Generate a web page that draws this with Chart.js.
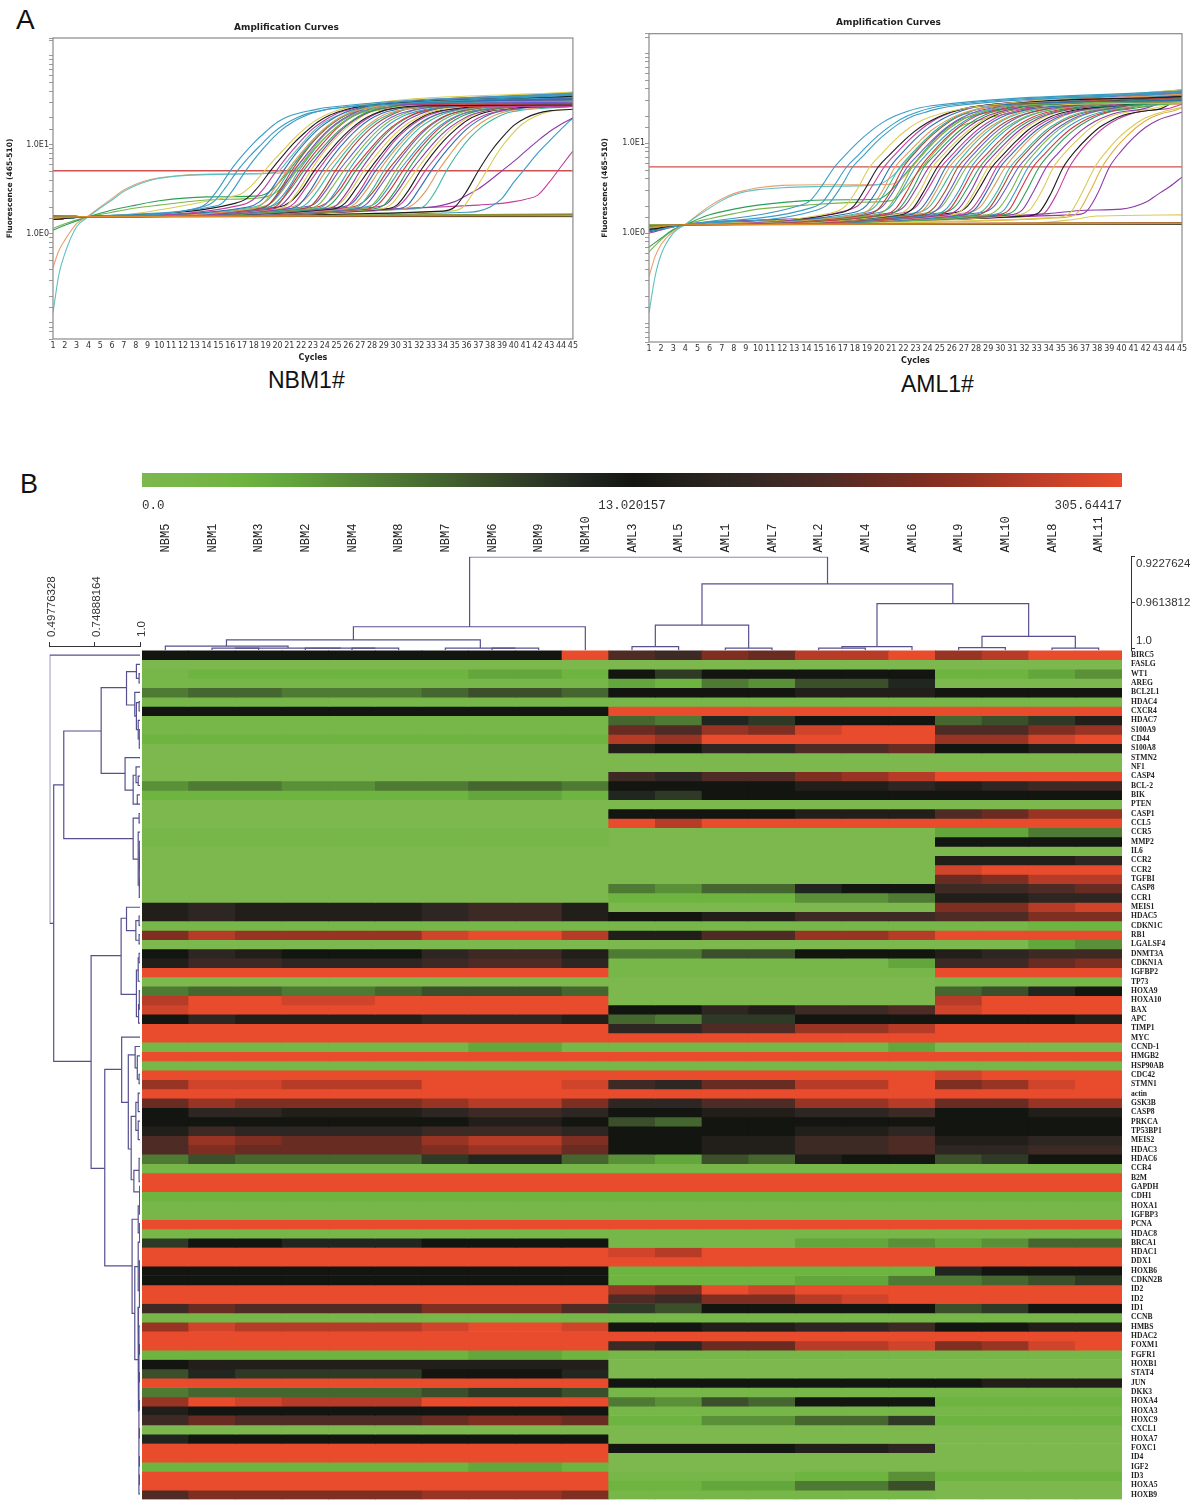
<!DOCTYPE html>
<html>
<head>
<meta charset="utf-8">
<script src="https://cdn.jsdelivr.net/npm/chart.js@4/dist/chart.umd.min.js"></script>
<style>
  html, body { margin: 0; background: #fff; }
  body { position: relative; width: 1200px; height: 1508px; overflow: hidden; }
  canvas { position: absolute; }
  .soft { filter: blur(0.45px); }
  .softer { filter: blur(0.3px); }
  .note { position: absolute; font-family: "Liberation Sans", sans-serif; color: #111; line-height: 1; }
</style>
</head>
<body>
<div class="note" style="left:16px;top:6px;font-size:28px">A</div>
<div class="note" style="left:20px;top:471px;font-size:27px">B</div>
<div class="note" style="left:268px;top:369px;font-size:23px">NBM1#</div>
<div class="note" style="left:901px;top:373px;font-size:23px">AML1#</div>

<canvas id="nbmChart" class="soft" style="left:0;top:22px"></canvas>
<canvas id="amlChart" class="soft" style="left:595px;top:17px"></canvas>
<canvas id="rampChart" class="softer" style="left:0;top:465px"></canvas>
<canvas id="heatChart" class="softer" style="left:0;top:510px"></canvas>
<canvas id="colTreeChart" class="softer" style="left:0;top:542px"></canvas>
<canvas id="rowTreeChart" class="softer" style="left:0;top:570px"></canvas>

<script>
const cycleTicks = [1, 45];
const curveColours = ["#d8343c", "#2e9e5b", "#8c3aa8", "#d9cc55", "#1c1c1c", "#c040a0", "#2f6fb0", "#e09a5a", "#3cb8a0", "#a84a30", "#6a5acd", "#7ab648", "#3a9cc4"];
const leadColour = "#3a9cc4";
const flatColours = ["#e08a30", "#8a8a30", "#1c1c1c", "#d8503c", "#d9cc55", "#e08a30", "#7ab648", "#a84a30"];
const nbmEarlyColours = ["#5fc0c0", "#e8a070", "#2e9e5b", "#7ab648"];
const nbmLateColours = ["#1c1c1c", "#d9cc55", "#8c3aa8", "#3a9cc4", "#c040a0"];
const amlEarlyColours = ["#5fc0c0", "#e8a070", "#2e9e5b", "#7ab648", "#8c3aa8", "#d9cc55"];
const amlLateColours = ["#d9cc55", "#e0b040", "#8c3aa8"];

// [first cycle, value at cycle 1, values on consecutive cycles..., value at cycle 45]
const nbmRises = [
  [13, 1.5, 1.9, 2.2, 3.2, 5.1, 7.5, 10.5, 14, 18, 21, 23, 24.5, 26, 38],
  [13.6, 1.55, 2, 2.3, 3.3, 5.1, 7.3, 10, 13.5, 17, 20, 22.5, 24, 25.5, 37],
  [14.3, 1.45, 2, 2.2, 3.2, 5.1, 7.6, 10.8, 14.5, 18, 21, 23.5, 25, 26, 36],
  [15.9, 1.6, 2.6, 2.8, 3.6, 5.1, 7.2, 10, 13.6, 17.5, 21, 24, 26, 28, 39],
  [16.4, 1.5, 2.2, 2.5, 3.4, 5.1, 7.4, 10.5, 14, 18, 21.5, 24, 26, 27.5, 35],
  [16.9, 1.55, 2.1, 2.4, 3.3, 5.1, 7.6, 10.8, 14.8, 18.5, 22, 24.5, 26.5, 28, 38],
  [17.5, 1.5, 2, 2.3, 3.2, 5.1, 7.8, 11.2, 15.2, 19, 22.5, 25, 27, 28, 33],
  [17.8, 1.6, 1.9, 2.2, 3.3, 5.1, 7.5, 10.8, 14.6, 18.5, 22, 24.5, 26, 27.5, 37],
  [18, 1.45, 2, 2.3, 3.2, 5.1, 7.7, 11, 15, 19, 22.5, 25, 27, 28.5, 31],
  [18.2, 1.5, 1.9, 2.1, 3.1, 5.1, 7.9, 11.5, 15.5, 19.5, 23, 26, 28, 29, 36],
  [18.4, 1.55, 1.9, 2.2, 3.2, 5.1, 7.6, 11, 15, 19, 22.5, 25.5, 27, 28, 30],
  [18.6, 1.6, 2, 2.3, 3.3, 5.1, 7.4, 10.5, 14.2, 18, 21.5, 24, 26.5, 28, 38],
  [18.8, 1.5, 1.9, 2.2, 3.1, 5.1, 7.8, 11.2, 15, 19, 22.5, 25, 27, 28.5, 34],
  [19, 1.45, 1.9, 2.1, 3.2, 5.1, 7.7, 11, 15.2, 19.5, 23, 25.5, 27, 28, 29],
  [19.2, 1.55, 2, 2.3, 3.3, 5.1, 7.5, 10.6, 14.4, 18.2, 22, 24.5, 26, 27.5, 35],
  [19.5, 1.6, 1.9, 2.2, 3.2, 5.1, 7.6, 11, 15, 19, 22.5, 25, 26.5, 28, 32],
  [19.8, 1.5, 1.9, 2.1, 3.1, 5.1, 7.9, 11.4, 15.4, 19.5, 23, 25, 26.5, 27.5, 37],
  [20.1, 1.45, 2, 2.3, 3.2, 5.1, 7.5, 10.8, 14.6, 18.6, 22, 24.5, 26, 27, 28],
  [20.4, 1.55, 1.9, 2.2, 3.3, 5.1, 7.7, 11, 15, 19, 22.5, 25, 26.5, 28, 33],
  [20.8, 1.6, 1.9, 2.1, 3.1, 5.1, 7.8, 11.2, 15.2, 19.2, 22.5, 24.5, 26, 27, 36],
  [21.1, 1.5, 2, 2.3, 3.2, 5.1, 7.4, 10.6, 14.4, 18.4, 22, 24, 25.5, 27, 30],
  [21.5, 1.45, 1.9, 2.2, 3.2, 5.1, 7.6, 11, 15, 19, 22, 24.5, 26, 27, 38],
  [21.9, 1.55, 1.9, 2.1, 3.1, 5.1, 7.9, 11.4, 15.4, 19.2, 22.5, 25, 26, 27, 29],
  [22.2, 1.6, 2, 2.2, 3.2, 5.1, 7.5, 10.8, 14.8, 18.8, 22, 24, 25.5, 26.5, 34],
  [22.6, 1.5, 1.9, 2.2, 3.3, 5.1, 7.6, 11, 15, 19, 22, 24.5, 26, 27, 31],
  [23, 1.45, 1.9, 2.1, 3.1, 5.1, 7.8, 11.2, 15.2, 19, 22, 24, 25.5, 26.5, 37],
  [23.3, 1.55, 2, 2.3, 3.2, 5.1, 7.4, 10.6, 14.4, 18.2, 21.5, 24, 25.5, 26.5, 28],
  [23.6, 1.6, 1.9, 2.2, 3.2, 5.1, 7.6, 11, 15, 18.8, 22, 24, 25.5, 26.5, 33],
  [24, 1.5, 1.9, 2.1, 3.1, 5.1, 7.8, 11.2, 15, 19, 22, 24.5, 26, 27, 36],
  [24.3, 1.45, 2, 2.2, 3.2, 5.1, 7.5, 10.8, 14.6, 18.4, 21.5, 24, 25.5, 26.5, 30],
  [24.7, 1.55, 1.9, 2.2, 3.3, 5.1, 7.6, 11, 14.8, 18.6, 22, 24, 25, 26, 35],
  [25, 1.6, 1.9, 2.1, 3.1, 5.1, 7.8, 11.4, 15.2, 19, 22, 24, 25.5, 26.5, 27],
  [25.3, 1.5, 2, 2.2, 3.2, 5.1, 7.5, 10.8, 14.6, 18.4, 21.5, 23.5, 25, 26, 32],
  [25.6, 1.45, 1.9, 2.2, 3.2, 5.1, 7.7, 11, 15, 19, 22, 24, 25, 26, 38],
  [26, 1.55, 1.9, 2.1, 3.1, 5.1, 7.9, 11.4, 15.4, 19, 22, 24, 25, 26, 29],
  [26.3, 1.6, 2, 2.3, 3.2, 5.1, 7.4, 10.6, 14.4, 18.2, 21.5, 23.5, 25, 26, 34],
  [26.6, 1.5, 1.9, 2.2, 3.3, 5.1, 7.6, 11, 15, 18.8, 22, 24, 25.5, 26.5, 31],
  [27, 1.45, 1.9, 2.1, 3.1, 5.1, 7.8, 11.2, 15.2, 19, 22, 24, 25.5, 26.5, 36],
  [27.3, 1.55, 2, 2.2, 3.2, 5.1, 7.5, 10.8, 14.6, 18.4, 21.5, 23.5, 25, 26, 28],
  [27.6, 1.6, 1.9, 2.2, 3.2, 5.1, 7.7, 11, 15, 18.8, 22, 24, 25, 26, 33],
  [28, 1.5, 1.9, 2.1, 3.1, 5.1, 7.9, 11.4, 15.2, 19, 22, 24, 25, 26, 37],
  [28.3, 1.45, 2, 2.2, 3.2, 5.1, 7.5, 10.8, 14.6, 18.2, 21.5, 23.5, 25, 26, 30],
  [28.7, 1.55, 1.9, 2.2, 3.3, 5.1, 7.6, 11, 15, 18.6, 22, 24, 25, 26, 35],
  [29.1, 1.6, 1.9, 2.1, 3.1, 5.1, 7.8, 11.2, 15, 19, 22, 24, 25, 26, 27],
  [29.5, 1.5, 1.9, 2.2, 3.2, 5.1, 7.5, 10.8, 14.6, 18.4, 21.5, 23.5, 25, 26, 32],
  [30, 1.45, 1.9, 2.1, 3.2, 5.1, 7.7, 11, 15, 18.8, 22, 24, 25, 26, 36],
  [30.6, 1.55, 1.9, 2.2, 3.1, 5.1, 7.8, 11.4, 15.2, 19, 22, 24, 25, 25.5, 29],
  [31.3, 1.6, 1.9, 2, 2.9, 5.1, 8.2, 12, 16, 19.5, 22.5, 24, 25, 25.5, 27],
  [34, 1.5, 1.8, 2, 3, 5.1, 8.2, 12, 16.5, 20, 22.5, 24, 25],
  [34.7, 1.55, 1.8, 2, 3.1, 5.1, 8.4, 12.5, 17, 20.5, 23, 24.5, 25],
  [33, 1.5, 2, 2.1, 2.3, 2.7, 3.2, 4, 5.1, 6.5, 8.5, 11, 14, 17, 20],
  [36, 1.6, 1.75, 1.8, 2, 2.5, 3.8, 5.5, 8, 11, 15, 20],
  [37, 1.55, 2.1, 2.15, 2.2, 2.3, 2.45, 2.7, 3.8, 5.7, 8.5]
];
// points that carry the curves starting low or holding a shoulder before they rise
const nbmEarly = [
  [[1, 0.13], [1.5, 0.35], [2, 0.6], [3, 1.2], [4, 1.55], [5, 1.95], [6, 2.4], [7, 3], [8, 3.5], [9, 3.9], [10, 4.2], [12, 4.5], [15, 4.65], [18, 4.7], [20, 5], [21, 7], [22, 10], [23, 14], [24, 18], [25, 21], [27, 25], [45, 30]],
  [[1, 0.42], [1.5, 0.65], [2, 0.85], [3, 1.3], [4, 1.6], [5, 2], [6, 2.5], [7, 3.1], [8, 3.6], [9, 4], [10, 4.25], [12, 4.55], [15, 4.7], [18, 4.75], [21, 4.9], [22, 6.5], [23, 9.5], [24, 13.5], [25, 17.5], [26, 21], [28, 25], [45, 28]],
  [[1, 1.1], [2, 1.25], [4, 1.55], [6, 1.85], [8, 2.1], [10, 2.35], [14, 2.6], [18, 2.65], [19, 2.8], [20, 3.6], [21, 5.2], [22, 7.6], [23, 11], [24, 15], [25, 19], [27, 24], [45, 32]],
  [[1, 1.15], [2, 1.3], [4, 1.55], [6, 1.75], [8, 1.95], [10, 2.1], [14, 2.4], [18, 2.5], [19, 2.6], [20, 3], [21, 4.2], [22, 6], [23, 9], [24, 13], [25, 17], [27, 23], [45, 30]]
];
// [value at cycle 1, value at cycle 45] for the wells that never rise
const nbmFlat = [[1.5, 1.6], [1.55, 1.65], [1.45, 1.58], [1.6, 1.62], [1.5, 1.55], [1.55, 1.6], [1.6, 1.68], [1.48, 1.63]];

const amlRises = [
  [13.3, 1.05, 2, 2.3, 3.4, 5.4, 7.6, 10.4, 13.6, 17, 20, 22.5, 24.5, 26, 38],
  [14.3, 1.1, 1.9, 2.2, 3.4, 5.4, 7.4, 10.2, 13.4, 16.8, 20, 22.5, 24.5, 26, 37],
  [14.8, 1.15, 1.8, 2.1, 3.2, 5.4, 7.5, 10.4, 13.6, 17, 20, 22, 24, 25.5, 36],
  [16.2, 1.1, 1.7, 2, 3.1, 5.4, 7.6, 10.5, 13.8, 17, 19.5, 21.5, 23, 24.5, 39],
  [16.9, 1.05, 1.7, 2, 3.2, 5.4, 7.5, 10.2, 13.4, 16.6, 19.5, 22, 24, 25.5, 33],
  [17.4, 1.2, 1.8, 2.1, 3.3, 5.4, 7.7, 10.6, 14, 17.5, 20.5, 23, 24.5, 26, 38],
  [17.9, 1.1, 1.7, 2, 3.1, 5.4, 7.8, 10.8, 14.2, 17.5, 20.5, 23, 25, 26, 30],
  [18.3, 1.05, 1.6, 1.9, 3, 5.4, 7.6, 10.4, 13.8, 17, 20, 22.5, 24, 25.5, 35],
  [18.7, 1.15, 1.7, 2, 3.2, 5.4, 7.7, 10.6, 14, 17.5, 20.5, 23, 25, 26, 39],
  [19, 1.1, 1.6, 1.9, 3, 5.4, 7.9, 11, 14.4, 18, 21, 23.5, 25, 26, 32],
  [19.3, 1.2, 1.7, 2, 3.1, 5.4, 7.6, 10.5, 14, 17.5, 20.5, 23, 24.5, 26, 37],
  [19.7, 1.05, 1.6, 1.9, 3, 5.4, 7.8, 10.8, 14.2, 17.6, 20.5, 23, 24.5, 26, 29],
  [20, 1.1, 1.7, 2, 3.2, 5.4, 7.7, 10.6, 14, 17.4, 20.5, 23, 24.5, 26, 34],
  [20.4, 1.15, 1.6, 1.9, 3.1, 5.4, 7.9, 11, 14.5, 18, 21, 23, 24.5, 26, 38],
  [20.7, 1.1, 1.6, 1.9, 3, 5.4, 7.6, 10.5, 14, 17.4, 20.5, 23, 24.5, 25.5, 31],
  [21.1, 1.05, 1.7, 2, 3.2, 5.4, 7.8, 10.8, 14.2, 17.6, 20.5, 22.5, 24, 25.5, 36],
  [21.4, 1.2, 1.6, 1.9, 3, 5.4, 7.7, 10.6, 14, 17.4, 20.5, 22.5, 24, 25.5, 28],
  [21.8, 1.1, 1.6, 1.9, 3.1, 5.4, 7.9, 11, 14.5, 18, 21, 23, 24.5, 25.5, 33],
  [22.1, 1.15, 1.7, 2, 3.2, 5.4, 7.6, 10.5, 14, 17.4, 20.5, 22.5, 24, 25.5, 37],
  [22.5, 1.05, 1.6, 1.9, 3, 5.4, 7.8, 10.8, 14.2, 17.6, 20.5, 22.5, 24, 25, 30],
  [22.8, 1.1, 1.6, 1.9, 3.1, 5.4, 7.7, 10.6, 14, 17.2, 20, 22.5, 24, 25, 35],
  [23.2, 1.2, 1.7, 2, 3.2, 5.4, 7.9, 11, 14.4, 17.8, 20.5, 22.5, 24, 25, 39],
  [23.5, 1.1, 1.6, 1.9, 3, 5.4, 7.6, 10.5, 14, 17.4, 20, 22, 23.5, 25, 29],
  [23.9, 1.05, 1.6, 1.9, 3.1, 5.4, 7.8, 10.8, 14.2, 17.6, 20.5, 22.5, 24, 25, 34],
  [24.2, 1.15, 1.7, 2, 3.2, 5.4, 7.7, 10.6, 14, 17.2, 20, 22, 23.5, 24.5, 38],
  [24.6, 1.1, 1.6, 1.9, 3, 5.4, 7.9, 11, 14.4, 17.8, 20.5, 22.5, 24, 25, 31],
  [24.9, 1.2, 1.6, 1.9, 3.1, 5.4, 7.6, 10.5, 14, 17.2, 20, 22, 23.5, 24.5, 36],
  [25.3, 1.05, 1.7, 2, 3.2, 5.4, 7.8, 10.8, 14.2, 17.4, 20, 22, 23.5, 24.5, 28],
  [25.6, 1.1, 1.6, 1.9, 3, 5.4, 7.7, 10.6, 14, 17.2, 20, 22, 23.5, 24.5, 33],
  [26, 1.15, 1.6, 1.9, 3.1, 5.4, 7.9, 11, 14.4, 17.6, 20.5, 22.5, 24, 25, 37],
  [26.3, 1.1, 1.7, 2, 3.2, 5.4, 7.6, 10.5, 14, 17.2, 20, 22, 23.5, 24.5, 30],
  [26.7, 1.05, 1.6, 1.9, 3, 5.4, 7.8, 10.8, 14.2, 17.4, 20, 22, 23.5, 24.5, 35],
  [27, 1.2, 1.6, 1.9, 3.1, 5.4, 7.7, 10.6, 14, 17.2, 20, 22, 23.5, 24.5, 29],
  [27.4, 1.1, 1.7, 2, 3.2, 5.4, 7.9, 11, 14.4, 17.6, 20.5, 22.5, 23.5, 24.5, 34],
  [27.8, 1.15, 1.6, 1.9, 3, 5.4, 7.6, 10.5, 14, 17.2, 20, 22, 23.5, 24.5, 38],
  [28.1, 1.05, 1.6, 1.9, 3.1, 5.4, 7.8, 10.8, 14.2, 17.4, 20, 22, 23.5, 24.5, 31],
  [28.5, 1.1, 1.7, 2, 3.2, 5.4, 7.7, 10.6, 14, 17.2, 20, 22, 23.5, 24.5, 36],
  [28.9, 1.2, 1.6, 1.9, 3, 5.4, 7.9, 11, 14.4, 17.6, 20.5, 22.5, 23.5, 24.5, 28],
  [29.3, 1.1, 1.6, 1.8, 3, 5.4, 7.8, 10.8, 14.2, 17.4, 20, 22, 23.5, 24.5, 33],
  [29.7, 1.05, 1.6, 1.8, 3.1, 5.4, 7.7, 10.6, 14, 17.2, 20, 22, 23.5, 24.5, 37],
  [30.2, 1.15, 1.6, 1.8, 3, 5.4, 7.9, 11, 14.4, 17.6, 20.5, 22.5, 23.5, 24.5, 30],
  [30.8, 1.1, 1.6, 1.8, 3, 5.4, 7.8, 10.8, 14.2, 17.4, 20, 22, 23, 24, 35],
  [31.4, 1.2, 1.6, 1.8, 2.9, 5.4, 8, 11, 14.6, 18, 20.5, 22, 23, 24, 29],
  [32.2, 1.1, 1.55, 1.7, 2.8, 5.4, 8.2, 11.4, 15, 18, 20.5, 22, 23, 24, 33],
  [32.7, 1.05, 1.55, 1.7, 2.8, 5.4, 8.4, 11.8, 15.4, 18.5, 21, 22.5, 23.5, 24, 27],
  [34.8, 1.1, 1.5, 1.7, 2.9, 5.4, 8.2, 11.6, 15, 18.5, 21, 23, 25],
  [35.4, 1.15, 1.5, 1.7, 2.9, 5.4, 8.4, 11.8, 15.6, 19, 21.5, 23, 25],
  [36, 1.05, 1.6, 1.7, 2.7, 5.4, 8.2, 11.5, 15, 18, 20, 22]
];
const amlEarly = [
  [[1, 0.13], [1.5, 0.33], [2, 0.58], [3, 1], [4, 1.25], [5, 1.55], [6, 1.9], [7, 2.3], [8, 2.65], [9, 2.9], [10, 3.05], [12, 3.2], [15, 3.3], [18, 3.35], [20, 3.5], [21, 4.2], [22, 5.8], [23, 8.2], [24, 11.5], [25, 15], [27, 21], [45, 29]],
  [[1, 0.33], [1.5, 0.55], [2, 0.75], [3, 1.05], [4, 1.25], [5, 1.6], [6, 2], [7, 2.4], [8, 2.75], [9, 3], [10, 3.2], [12, 3.4], [15, 3.45], [18, 3.45], [21, 3.5], [22, 4.2], [23, 6], [24, 8.6], [25, 12], [26, 15.5], [28, 21], [45, 27]],
  [[1, 0.7], [2, 0.88], [3, 1.1], [4, 1.25], [6, 1.6], [8, 1.85], [10, 2.05], [14, 2.3], [18, 2.35], [20, 2.4], [21, 3], [22, 4.3], [23, 6.2], [24, 9], [25, 12.5], [27, 19], [45, 32]],
  [[1, 0.62], [2, 0.85], [3, 1.08], [4, 1.25], [6, 1.45], [8, 1.65], [10, 1.85], [14, 2.05], [18, 2.2], [21, 2.3], [22, 3], [23, 4.4], [24, 6.4], [25, 9.2], [27, 16], [45, 30]],
  [[1, 1], [4, 1.25], [10, 1.4], [20, 1.5], [30, 1.55], [34, 1.65], [37, 1.8], [40, 1.85], [42, 2.2], [43, 2.7], [44, 3.3], [45, 4.2]],
  [[1, 1.1], [4, 1.25], [20, 1.28], [33, 1.3], [36, 1.42], [38, 1.55], [45, 1.6]]
];
const amlFlat = [[1.15, 1.28], [1.2, 1.3], [1.1, 1.26], [1.22, 1.31], [1.15, 1.27], [1.18, 1.29], [1.25, 1.3]];

const nbmPivot = 1.56;
const amlPivot = 1.24;
const nbmThreshold = 5.1;
const amlThreshold = 5.45;

const sampleLabels = ["NBM5", "NBM1", "NBM3", "NBM2", "NBM4", "NBM8", "NBM7", "NBM6", "NBM9", "NBM10", "AML3", "AML5", "AML1", "AML7", "AML2", "AML4", "AML6", "AML9", "AML10", "AML8", "AML11"];
const rowLabels = ["BIRC5", "FASLG", "WT1", "AREG", "BCL2L1", "HDAC4", "CXCR4", "HDAC7", "S100A9", "CD44", "S100A8", "STMN2", "NF1", "CASP4", "BCL-2", "BIK", "PTEN", "CASP1", "CCL5", "CCR5", "MMP2", "IL6", "CCR2", "CCR2", "TGFBI", "CASP8", "CCR1", "MEIS1", "HDAC5", "CDKN1C", "RB1", "LGALSF4", "DNMT3A", "CDKN1A", "IGFBP2", "TP73", "HOXA9", "HOXA10", "BAX", "APC", "TIMP1", "MYC", "CCND-1", "HMGB2", "HSP90AB", "CDC42", "STMN1", "actin", "GSK3B", "CASP8", "PRKCA", "TP53BP1", "MEIS2", "HDAC3", "HDAC6", "CCR4", "B2M", "GAPDH", "CDH1", "HOXA1", "IGFBP3", "PCNA", "HDAC8", "BRCA1", "HDAC1", "DDX1", "HOXB6", "CDKN2B", "ID2", "ID2", "ID1", "CCNB", "HMBS", "HDAC2", "FOXM1", "FGFR1", "HOXB1", "STAT4", "JUN", "DKK3", "HOXA4", "HOXA3", "HOXC9", "CXCL1", "HOXA7", "FOXC1", "ID4", "IGF2", "ID3", "HOXA5", "HOXB9"];

// one character per cell, 0 = green, a = black, k = red (base 21 step on the colour bar)
const heatRows = [
  "aaaaaaaaak edgfiikhikk", "0000000000 00000000000", "1222222332 a8aaaaa2234", "1111111111 32547790000",
  "5665556776 aaaabbbaaaa", "1111111111 11111111111", "aaaaaaaaaa kkkkkkkkkkk", "1111111111 6598aaa678b",
  "1111111111 fehgjkkeegh", "2222222222 ihkkkkkhhjk", "0000000000 bacceefaabb", "0000000000 00000000000",
  "0000000000 00000000000", "0000000000 dceeghikkkk", "4554455665 aaaabbcbcdd", "2222222332 98aaaaaaaaa",
  "0000000000 00000000000", "0000000000 aaaabbbefhh", "0000000000 kikkkkkkkkk", "1111111111 00000003355",
  "1111111111 0000000aaaa", "0000000000 00000000000", "0000000000 0000000bbbc", "0000000000 0000000jkkk",
  "0000000000 0000000fgii", "0000000000 54669aaddef", "0000000000 2222445bbcc", "bcbbbbcddb 0000000ggij",
  "bcbbbbcddb aabbdddeegg", "1111111111 11111111122", "gihhhhjkki bbeehhikkkk", "0000000000 00000000034",
  "acbaaacddb 5577aaabcdd", "bddcccdeec 1111113ddfg", "kkkkkkkkkk 1111111kkkk", "0000000000 00000001111",
  "5665567776 0000000679a", "ikkjjkkkkk 0000000ikkk", "jkkkkkkkkk aacbddejkkk", "acbbbbcccb 6588aaaaaab",
  "kkkkkkkkkk cceehhikkkk", "kkkkkkkkkk kkkkkkkkkkk", "1111111331 11111130000", "kkkkkkkkkk kkkkkkkkkkk",
  "1111111111 11111111111", "kkkkkkkkkk kkkkkkkjkkk", "hjjiiikkkj dcffiikghjk", "kkkkkkkkkk kkkkkkkkkkk",
  "fhgggghiig cceehhiffhh", "accbbbcddc aabbccdaabb", "aaaaaaabba 76aaaaaaaaa", "bdccccdddc aaaabbcaaaa",
  "ehgfffhiig aabbddebbcc", "egffffghhf aabbddeccdd", "5766668996 4376baa78aa", "1111111111 11111111111",
  "kkkkkkkkkk kkkkkkkkkkk", "kkkkkkkkkk kkkkkkkkkkk", "2222222222 22222222222", "1111111111 11111111111",
  "1111111111 11111111111", "kkkkkkkkkk kkkkkkkkkkk", "1111111111 11111111111", "8aa999aaaa 11113343466",
  "kkkkkkkkkk jikkkkkkkkk", "kkkkkkkkkk kkkkkkkkkkk", "aaaaaaaaaa 22222229aaa", "aaaaaaaaaa 22223355678",
  "kkkkkkkkkk hgkjkkkkkkk", "kkkkkkkkkk edggijkkkkk", "dfeeeeggge 87aaaaa78aa", "1111111111 11111111111",
  "hjiiiijkkj aabbccdaabb", "kkkkkkkkkk kkkkkkkkkkk", "kkkkkkkkkk dcffiijghjk", "2222222332 11111111111",
  "abbbbbbbbb 00000000000", "798888aaa9 00000000000", "kkkkkkkkkk aaaaaaaabbb", "5666667887 11111111111",
  "hkjiiikkkk 5476aaa2222", "baaaaaaaaa 11111111111", "dfeeeefggf 22446682222", "0000000000 00000000000",
  "9aaaaaaaaa 00000000000", "kkkkkkkkkk aaaabbc0000", "kkkkkkkkkk 00000000000", "2222222332 00000000000",
  "kkkkkkkkkk 11112242222", "kkkkkkkkkk 22335570000", "eggggghhhg 11111110000"
];
const rampColours = ["#7cb84d", "#77b648", "#6eb440", "#62a63c", "#5a9038", "#4f7a34", "#45662f", "#3b4f2a", "#2f3a26", "#222620", "#131510", "#221f1a", "#2e2622", "#3d2a25", "#4f2b25", "#682c22", "#7f2e22", "#983423", "#b63c28", "#cf442a", "#e84c2c"];
const rampTicks = [0, 0.5, 1];
const rampLabels = ["0.0", "13.020157", "305.64417"];

// [left col, left height, right col, right height, join height]
const colTree = [
  [1.5, 1.0017, 2.5, 1.0017, 1], [4.5, 1.0017, 5.5, 1.0017, 1], [3.5, 1.0017, 5, 1, 1], [2, 1, 4.25, 1, 0.9999],
  [0.5, 1.0017, 3.13, 0.9999, 0.9983], [7.5, 1.0017, 8.5, 1.0017, 1], [6.5, 1.0017, 8, 1, 1],
  [1.81, 0.9983, 7.25, 1, 0.993], [4.53, 0.993, 9.5, 1.0017, 0.9819], [10.5, 1.0017, 11.5, 1.0017, 0.9987],
  [12.5, 1.0017, 13.5, 1.0017, 1], [11, 0.9987, 13, 1, 0.9805], [14.5, 1.0017, 15.5, 1.0017, 1],
  [15, 1, 16.5, 1.0017, 0.9987], [17.5, 1.0017, 18.5, 1.0017, 0.9995], [19.5, 1.0017, 20.5, 1.0017, 1],
  [18, 0.9995, 20, 1, 0.9901], [15.75, 0.9987, 19, 0.9901, 0.9624], [12, 0.9805, 17.375, 0.9624, 0.9457],
  [7.02, 0.9819, 14.69, 0.9457, 0.9228]
];
const colTreeTicks = [0.9227624, 0.9613812, 1.0];

// [join similarity, upper row, lower row, upper child similarity, lower child similarity]
const rowTree = [
  [0.4978, 0.5, 29.3, 1, 0.52], [0.52, 14.44, 44.1, 0.576, 0.728], [0.576, 8.65, 20.2, 0.784, 0.962],
  [0.784, 4, 13.2, 0.925, 0.917], [0.925, 2.29, 5.86, 0.98, 0.971], [0.98, 1.5, 3, 1, 0.995], [0.995, 2.5, 3.5, 1, 1],
  [0.971, 4.5, 7.05, 1, 0.98], [0.98, 5.6, 8.5, 0.995, 0.99], [0.995, 5.5, 6.5, 1, 1], [0.99, 7.5, 9.5, 1, 0.996],
  [0.996, 8.5, 10.5, 1, 1], [0.917, 11.5, 15, 1, 0.962], [0.962, 13.4, 16.5, 0.978, 0.985], [0.978, 12.5, 14.2, 1, 0.99],
  [0.99, 13.5, 14.5, 1, 1], [0.985, 15.5, 16.5, 1, 1], [0.962, 18, 22.4, 0.995, 0.99], [0.995, 17.5, 18.5, 1, 1],
  [0.99, 19.5, 25.2, 1, 0.996], [0.996, 20.5, 26.5, 1, 1], [0.998, 21.5, 23.5, 1, 1], [0.998, 24.5, 25.5, 1, 1],
  [0.728, 32.76, 55.57, 0.895, 0.804], [0.895, 28.74, 36.9, 0.925, 0.98], [0.925, 27.56, 30.07, 1, 0.977],
  [0.977, 29, 31.1, 0.995, 0.995], [0.995, 28.5, 29.5, 1, 1], [0.995, 30.5, 31.5, 1, 1], [0.98, 34.3, 39.3, 0.99, 0.992],
  [0.99, 33, 35.5, 0.995, 1], [0.995, 32.5, 33.5, 1, 1], [0.992, 38, 40, 0.996, 1], [0.996, 36.5, 38.5, 1, 1],
  [0.804, 44.95, 66.05, 0.898, 0.956], [0.898, 41.5, 48.5, 1, 0.935], [0.935, 43.4, 53.5, 0.973, 0.951],
  [0.973, 42.5, 44.8, 1, 0.985], [0.985, 43.5, 46, 1, 0.995], [0.995, 45.5, 46.5, 1, 1], [0.951, 50, 56.8, 0.977, 0.966],
  [0.977, 48.5, 51.5, 0.99, 0.99], [0.99, 47.5, 49.5, 1, 1], [0.99, 50.5, 52.5, 1, 1], [0.966, 55.8, 58.1, 0.995, 0.998],
  [0.995, 54.5, 57, 1, 1], [0.998, 57.5, 58.7, 1, 1], [0.956, 61.04, 71.13, 0.99, 0.971], [0.99, 59.6, 62.5, 0.998, 0.998],
  [0.998, 58.5, 60.5, 1, 1], [0.998, 61.5, 63.5, 1, 1], [0.971, 66.13, 76.1, 0.99, 0.989], [0.99, 63.5, 68.7, 1, 0.996],
  [0.996, 65.5, 70.5, 1, 0.998], [0.989, 70.5, 81.7, 1, 0.994], [0.994, 72.5, 90.5, 1, 1], [0.997, 74.5, 75.5, 1, 1],
  [0.997, 77.5, 78.5, 1, 1], [0.997, 80.5, 81.5, 1, 1], [0.997, 83.5, 84.5, 1, 1], [0.997, 86.5, 87.5, 1, 1], [0.997, 88.5, 89.5, 1, 1]
];
const rowTreeTicks = [0.49776328, 0.74888164, 1.0];

Chart.defaults.animation = false;
Chart.defaults.events = [];
Chart.defaults.plugins.legend.display = false;
Chart.defaults.plugins.tooltip.enabled = false;

const treeColour = "#56508e";
const frame = {
  id: "frame",
  afterDraw(chart) {
    const { ctx, chartArea: a } = chart;
    ctx.save();
    ctx.strokeStyle = "#8a8a8a";
    ctx.lineWidth = 1.2;
    ctx.strokeRect(a.left, a.top, a.right - a.left, a.bottom - a.top);
    ctx.restore();
  }
};

function setSize(id, width, height) {
  const el = document.getElementById(id);
  el.width = width;
  el.height = height;
  el.style.width = width + "px";
  el.style.height = height + "px";
  return el;
}

function riseToPoints(curve, pivot) {
  const points = [{ x: 1, y: curve[1] }, { x: 4, y: pivot }];
  const steps = curve.slice(2, -1);
  steps.forEach((y, i) => points.push({ x: curve[0] + i, y }));
  points.push({ x: 45, y: curve[curve.length - 1] });
  return points;
}

function lineSet(points, colour) {
  return { data: points, borderColor: colour, borderWidth: 1.1, pointRadius: 0, showLine: true, cubicInterpolationMode: "monotone" };
}

function curveChart(id, size, opts) {
  const datasets = [];
  opts.flat.forEach((f, i) => datasets.push(lineSet([{ x: 1, y: f[0] }, { x: 4, y: opts.pivot }, { x: 45, y: f[1] }], flatColours[i])));
  const lateFrom = opts.rises.length - opts.lateColours.length;
  opts.rises.forEach((c, i) => {
    let colour = curveColours[i % curveColours.length];
    if (i < 3) colour = leadColour;
    if (i >= lateFrom) colour = opts.lateColours[i - lateFrom];
    datasets.push(lineSet(riseToPoints(c, opts.pivot), colour));
  });
  opts.early.forEach((e, i) => datasets.push(lineSet(e.map(p => ({ x: p[0], y: p[1] })), opts.earlyColours[i])));
  datasets.push({
    data: cycleTicks.map(x => ({ x, y: opts.threshold })),
    borderColor: "#cf5050",
    borderWidth: 1.4,
    pointRadius: 0,
    showLine: true
  });

  return new Chart(setSize(id, size[0], size[1]), {
    type: "scatter",
    data: { datasets },
    plugins: [frame],
    options: {
      responsive: false,
      layout: { padding: { right: opts.rightPad } },
      plugins: {
        title: {
          display: true,
          text: "Amplification Curves",
          color: "#222",
          font: { family: "DejaVu Sans", size: 9, weight: "bold" },
          padding: { top: 0, bottom: opts.titleGap }
        }
      },
      scales: {
        x: {
          type: "linear",
          min: 1,
          max: 45,
          afterFit: s => { s.height = 24; },
          grid: { display: false, drawTicks: false },
          border: { display: false },
          ticks: { stepSize: 1, autoSkip: false, maxRotation: 0, padding: 2, color: "#333", font: { family: "DejaVu Sans", size: 8 } },
          title: { display: true, text: "Cycles", color: "#222", padding: 0, font: { family: "DejaVu Sans", size: 8, weight: "bold" } }
        },
        y: {
          type: "logarithmic",
          min: opts.yMin,
          max: opts.yMax,
          afterFit: s => { s.width = opts.axisWidth; },
          grid: { drawOnChartArea: false, tickLength: 4, color: "#999" },
          border: { display: false },
          ticks: {
            autoSkip: false,
            padding: 0,
            color: "#333",
            font: { family: "DejaVu Sans", size: 8 },
            callback: v => (v === 10 ? "1.0E1" : v === 1 ? "1.0E0" : "")
          },
          title: { display: true, text: "Fluorescence (465-510)", color: "#222", padding: { top: 6, bottom: 0 }, font: { family: "DejaVu Sans", size: 7.5, weight: "bold" } }
        }
      }
    }
  });
}

curveChart("nbmChart", [580, 341], { rises: nbmRises, early: nbmEarly, flat: nbmFlat, pivot: nbmPivot, threshold: nbmThreshold, yMin: 0.066, yMax: 158, axisWidth: 53, rightPad: 7, titleGap: 5.2, earlyColours: nbmEarlyColours, lateColours: nbmLateColours });
curveChart("amlChart", [595, 349], { rises: amlRises, early: amlEarly, flat: amlFlat, pivot: amlPivot, threshold: amlThreshold, yMin: 0.062, yMax: 164, axisWidth: 54, rightPad: 8, titleGap: 5.9, earlyColours: amlEarlyColours, lateColours: amlLateColours });

// colour bar
new Chart(setSize("rampChart", 1200, 50), {
  type: "bar",
  data: {
    labels: ["ramp"],
    datasets: [{
      data: [[0, 1]],
      barPercentage: 1,
      categoryPercentage: 1,
      backgroundColor: ctx => {
        const a = ctx.chart.chartArea;
        if (!a) return rampColours[0];
        const g = ctx.chart.ctx.createLinearGradient(a.left, 0, a.right, 0);
        rampColours.forEach((c, i) => g.addColorStop(i / (rampColours.length - 1), c));
        return g;
      }
    }]
  },
  options: {
    indexAxis: "y",
    responsive: false,
    layout: { padding: { left: 142, right: 78, top: 8 } },
    scales: {
      y: { display: false },
      x: {
        type: "linear",
        min: 0,
        max: 1,
        afterBuildTicks: axis => { axis.ticks = rampTicks.map(value => ({ value })); },
        afterFit: s => { s.height = 28; },
        grid: { display: false, drawTicks: false },
        border: { display: false },
        ticks: {
          align: "inner",
          padding: 11,
          maxRotation: 0,
          color: "#333",
          font: { family: "Liberation Mono", size: 12.5 },
          callback: (v, i) => rampLabels[i]
        }
      }
    }
  }
});

// heat map: one dataset per row, a floating bar per sample
const heatDatasets = heatRows.map((row, r) => {
  const cells = row.replace(/ /g, "").split("").map(ch => parseInt(ch, 21));
  return {
    label: rowLabels[r],
    data: sampleLabels.map(() => [r, r + 1]),
    backgroundColor: sampleLabels.map((s, c) => rampColours[cells[c]]),
    barPercentage: 1,
    categoryPercentage: 1,
    grouped: false
  };
});

new Chart(setSize("heatChart", 1200, 1003), {
  type: "bar",
  data: { labels: sampleLabels, datasets: heatDatasets },
  options: {
    responsive: false,
    layout: { padding: { left: 142, bottom: 5 } },
    scales: {
      x: {
        position: "top",
        afterFit: s => { s.height = 140.4; },
        grid: { display: false, drawTicks: false },
        border: { display: false },
        ticks: { autoSkip: false, minRotation: 90, maxRotation: 90, padding: 98, labelOffset: 15, color: "#222", font: { family: "Liberation Mono", size: 12 } }
      },
      y: { type: "linear", min: 0, max: 91, reverse: true, display: false },
      yRows: {
        type: "category",
        labels: rowLabels,
        position: "right",
        offset: true,
        afterFit: s => { s.width = 78; },
        grid: { display: false, drawTicks: false },
        border: { display: false },
        ticks: { autoSkip: false, padding: 9, color: "#222", font: { family: "Liberation Serif", size: 7.6, weight: "bold" } }
      }
    }
  }
});

// sample tree above the heat map
const colTreeSets = colTree.map(n => ({
  data: [{ x: n[0], y: n[1] }, { x: n[0], y: n[4] }, { x: n[2], y: n[4] }, { x: n[2], y: n[3] }],
  borderColor: treeColour,
  borderWidth: 1.2,
  pointRadius: 0,
  showLine: true
}));
new Chart(setSize("colTreeChart", 1200, 123), {
  type: "scatter",
  data: { datasets: colTreeSets },
  options: {
    responsive: false,
    layout: { padding: { left: 142, top: 5.6, bottom: 8.4 } },
    scales: {
      x: { type: "linear", min: 0, max: 21.193, display: false },
      y: {
        type: "linear",
        position: "right",
        min: 0.9227624,
        max: 1.0017,
        reverse: true,
        afterBuildTicks: axis => { axis.ticks = colTreeTicks.map(value => ({ value })); },
        afterFit: s => { s.width = 69; },
        grid: { drawOnChartArea: false, tickLength: 4, color: "#333" },
        border: { display: true, color: "#333" },
        ticks: {
          padding: 1,
          color: "#333",
          font: { family: "Liberation Sans", size: 11.5 },
          // blank second line nudges the end labels inside the bracket
          callback: v => (v === 1 ? ["1.0", ""] : v === colTreeTicks[0] ? ["", String(v)] : String(v))
        }
      }
    }
  }
});

// gene tree left of the heat map
const rowTreeSets = rowTree.map(n => ({
  data: [{ x: n[3], y: n[1] }, { x: n[0], y: n[1] }, { x: n[0], y: n[2] }, { x: n[4], y: n[2] }],
  borderColor: treeColour,
  borderWidth: 1.2,
  pointRadius: 0,
  showLine: true
}));
new Chart(setSize("rowTreeChart", 145, 938), {
  type: "scatter",
  data: { datasets: rowTreeSets },
  options: {
    responsive: false,
    layout: { padding: { left: 49.7, right: 3, bottom: 9.5 } },
    scales: {
      x: {
        type: "linear",
        position: "top",
        min: 0.49776328,
        max: 1,
        afterBuildTicks: axis => { axis.ticks = rowTreeTicks.map(value => ({ value })); },
        afterFit: s => { s.height = 76; },
        grid: { drawOnChartArea: false, tickLength: 4, color: "#333" },
        border: { display: true, color: "#333" },
        ticks: { minRotation: 90, maxRotation: 90, padding: 5, labelOffset: 16, color: "#333", font: { family: "Liberation Sans", size: 11.5 }, callback: v => (v === 1 ? "1.0" : String(v)) }
      },
      y: { type: "linear", min: -0.47, max: 91, reverse: true, display: false }
    }
  }
});
</script>
</body>
</html>
